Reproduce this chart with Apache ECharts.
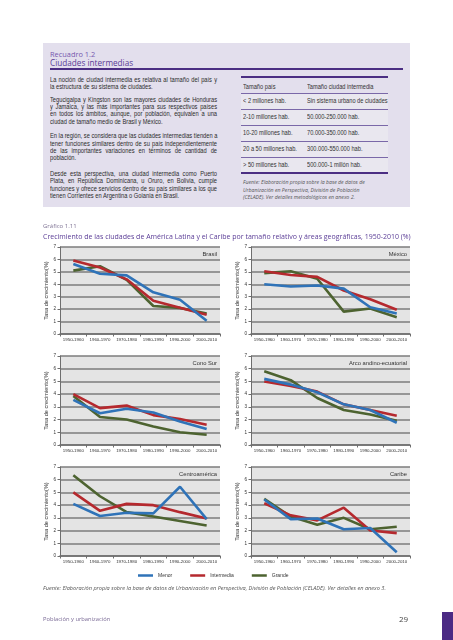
<!DOCTYPE html>
<html><head><meta charset="utf-8">
<script src="https://cdn.jsdelivr.net/npm/echarts@6/dist/echarts.min.js"></script>
<style>
html,body{margin:0;padding:0;background:#fff;width:453px;height:640px;overflow:hidden;}
#chart{position:absolute;left:0;top:0;width:453px;height:640px;}
.t{position:absolute;white-space:nowrap;line-height:8px;height:8px;}
.body{font-family:"Liberation Sans",sans-serif;font-size:6.6px;color:#2b2b2b;width:192px;left:50px;text-align:justify;text-align-last:justify;transform:scaleX(0.87);transform-origin:0 50%;}
.body.last{text-align-last:left;}
.tb{font-family:"Liberation Sans",sans-serif;font-size:6.6px;color:#333;transform:scaleX(0.86);transform-origin:0 50%;}
.hl{position:absolute;left:241px;width:147px;}
.src{font-family:"Open Sans",sans-serif;font-style:italic;font-size:5.2px;color:#555;}
</style></head>
<body>
<div style="position:absolute;left:43px;top:43px;width:367px;height:164px;background:#e3dfed;"></div>
<div class="t" style="left:50px;top:50px;font-family:'Open Sans',sans-serif;font-size:7.4px;color:#7657ad;">Recuadro 1.2</div>
<div class="t" style="left:50px;top:59px;font-family:'Open Sans',sans-serif;font-size:8.2px;color:#5a3c96;">Ciudades intermedias</div>
<div style="position:absolute;left:50px;top:68px;width:353px;height:2px;background:#4b2e83;"></div>

<div id="txt"></div>

<div id="chart"></div>
<div class="t" style="left:43px;top:222px;font-family:'Open Sans',sans-serif;font-size:6px;color:#7f7394;">Gráfico 1.11</div>
<div class="t" style="left:43px;top:233px;font-family:'Open Sans',sans-serif;font-size:7px;color:#5a3c96;">Crecimiento de las ciudades de América Latina y el Caribe por tamaño relativo y áreas geográficas, 1950-2010 (%)</div>
<div class="t src" style="left:43px;top:584px;font-size:5.6px;">Fuente: Elaboración propia sobre la base de datos de Urbanización en Perspectiva, División de Población (CELADE). Ver detalles en anexo 3.</div>
<div class="t" style="left:43px;top:615px;font-family:'Open Sans',sans-serif;font-size:5.8px;color:#7a6a96;">Población y urbanización</div>
<div class="t" style="left:399px;top:614px;font-family:'Open Sans',sans-serif;font-size:8px;color:#444;height:10px;line-height:10px;">29</div>
<div style="position:absolute;left:442px;top:612px;width:11px;height:28px;background:#4b2a84;"></div>

<script>
// ---- Data ----
const categories = ['1950-1960','1960-1970','1970-1980','1980-1990','1990-2000','2000-2010'];
const yTicks = [0,1,2,3,4,5,6,7];
const seriesNames = ['Menor','Intermedia','Grande'];
const panelNames = ['Brasil','México','Cono Sur','Arco andino-ecuatorial','Centroamérica','Caribe'];

const brasilMenor      = [5.63, 4.85, 4.72, 3.35, 2.76, 1.07];
const brasilIntermedia = [5.92, 5.35, 4.40, 2.68, 2.12, 1.55];
const brasilGrande     = [5.10, 5.45, 4.35, 2.25, 2.10, 1.65];

const mexicoMenor      = [4.00, 3.82, 3.90, 3.65, 2.15, 1.65];
const mexicoIntermedia = [5.05, 4.75, 4.60, 3.50, 2.80, 1.95];
const mexicoGrande     = [4.90, 5.05, 4.45, 1.80, 2.05, 1.35];

const conoSurMenor      = [3.55, 2.50, 2.85, 2.55, 1.85, 1.25];
const conoSurIntermedia = [4.00, 2.90, 3.10, 2.35, 2.05, 1.60];
const conoSurGrande     = [3.85, 2.20, 2.00, 1.45, 1.00, 0.80];

const andinoMenor      = [5.20, 4.75, 4.15, 3.20, 2.75, 1.75];
const andinoIntermedia = [5.00, 4.65, 4.20, 3.20, 2.75, 2.30];
const andinoGrande     = [5.80, 5.10, 3.70, 2.75, 2.40, 1.90];

const centroMenor      = [4.10, 3.15, 3.40, 3.35, 5.45, 2.90];
const centroIntermedia = [5.00, 3.55, 4.10, 4.00, 3.45, 2.95];
const centroGrande     = [6.35, 4.70, 3.45, 3.10, 2.75, 2.40];

const caribeMenor      = [4.45, 2.90, 2.95, 2.10, 2.20, 0.30];
const caribeIntermedia = [4.15, 3.20, 2.80, 3.80, 2.00, 1.80];
const caribeGrande     = [4.50, 3.10, 2.45, 3.00, 2.10, 2.30];

const panelData = [
  [brasilMenor, brasilIntermedia, brasilGrande],
  [mexicoMenor, mexicoIntermedia, mexicoGrande],
  [conoSurMenor, conoSurIntermedia, conoSurGrande],
  [andinoMenor, andinoIntermedia, andinoGrande],
  [centroMenor, centroIntermedia, centroGrande],
  [caribeMenor, caribeIntermedia, caribeGrande]
];

// ---- Box text ----
const bodyLines = [
  [80,'La noción de ciudad intermedia es relativa al tamaño del país y',0],
  [87,'la estructura de su sistema de ciudades.',1],
  [99.7,'Tegucigalpa y Kingston son las mayores ciudades de Honduras',0],
  [107,'y Jamaica, y las más importantes para sus respectivos países',0],
  [114.3,'en todos los ámbitos, aunque, por población, equivalen a una',0],
  [121.7,'ciudad de tamaño medio de Brasil y México.',1],
  [136.3,'En la región, se considera que las ciudades intermedias tienden a',0],
  [143.7,'tener funciones similares dentro de su país independientemente',0],
  [151,'de las importantes variaciones en términos de cantidad de',0],
  [158.3,'población.',1],
  [174,'Desde esta perspectiva, una ciudad intermedia como Puerto',0],
  [181.3,'Plata, en República Dominicana, u Oruro, en Bolivia, cumple',0],
  [188.7,'funciones y ofrece servicios dentro de su país similares a los que',0],
  [196,'tienen Corrientes en Argentina o Goiania en Brasil.',1]
];
const tableHeader = ['Tamaño país','Tamaño ciudad intermedia'];
const tableRows = [
  ['< 2 millones hab.','Sin sistema urbano de ciudades'],
  ['2-10 millones hab.','50.000-250.000 hab.'],
  ['10-20 millones hab.','70.000-350.000 hab.'],
  ['20 a 50 millones hab.','300.000-550.000 hab.'],
  ['> 50 millones hab.','500.000-1 millón hab.']
];
const boxSource = [
  'Fuente: Elaboración propia sobre la base de datos de',
  'Urbanización en Perspectiva, División de Población',
  '(CELADE). Ver detalles metodológicos en anexo 2.'
];
const esc = s => s.replace(/</g,'&lt;').replace(/>/g,'&gt;');
let html = '';
bodyLines.forEach(l => {
  html += `<div class="t body${l[2]?' last':''}" style="top:${l[0]-4}px">${esc(l[1])}</div>`;
});
// table
html += `<div class="hl" style="top:76px;height:2px;background:#4b2e83"></div>`;
html += `<div class="t tb" style="left:243px;top:${86.7-4}px">${tableHeader[0]}</div>`;
html += `<div class="t tb" style="left:307px;top:${86.7-4}px">${tableHeader[1]}</div>`;
const rowTops = [93,109,125,141,157];
tableRows.forEach((r,i)=>{
  const top = rowTops[i];
  const bottom = i < 4 ? rowTops[i+1] : 173;
  html += `<div class="hl" style="top:${top}px;height:${bottom-top}px;background:#e9e7ef"></div>`;
  html += `<div class="hl" style="top:${top}px;height:1px;background:#7a68a8"></div>`;
  const c = (top+bottom)/2;
  html += `<div class="t tb" style="left:243px;top:${c-4}px">${esc(r[0])}</div>`;
  html += `<div class="t tb" style="left:307px;top:${c-4}px">${esc(r[1])}</div>`;
});
html += `<div class="hl" style="top:172px;height:2px;background:#4b2e83"></div>`;
[182,189.5,196.7].forEach((y,i)=>{
  html += `<div class="t src" style="left:243px;top:${y-4}px">${boxSource[i]}</div>`;
});
document.getElementById('txt').innerHTML = html;

// ---- Chart ----
const FONT = 'Liberation Sans';
const colors = ['#2f73b8','#b5292e','#4d6330'];
const lefts = [60, 251];
const widths = [160, 159];
const tops = [247, 356, 467];
const heights = [87, 89, 89];

const grids = [], xAxes = [], yAxes = [], series = [], graphics = [];
panelData.forEach((pd, i) => {
  const col = i % 2, row = Math.floor(i / 2);
  grids.push({left: lefts[col], top: tops[row], width: widths[col], height: heights[row],
    show: true, backgroundColor: '#e4e4e4', borderWidth: 0, containLabel: false});
  xAxes.push({type: 'category', gridIndex: i, data: categories, boundaryGap: true,
    axisLine: {show: true, lineStyle: {color: '#6e6e6e', width: 1.5}},
    axisTick: {show: true, length: 2.5, lineStyle: {color: '#6e6e6e'}},
    axisLabel: {fontSize: 4.4, color: '#333', margin: 4, interval: 0, fontFamily: FONT},
    splitLine: {show: false}});
  yAxes.push({type: 'value', gridIndex: i, min: yTicks[0], max: yTicks[yTicks.length-1], interval: 1,
    name: 'Tasa de crecimiento(%)', nameLocation: 'middle', nameGap: 10, nameRotate: 90,
    nameTextStyle: {fontSize: 5.6, color: '#333', fontFamily: FONT},
    axisLine: {show: true, lineStyle: {color: '#6e6e6e', width: 1}},
    axisTick: {show: true, length: 2.5, lineStyle: {color: '#6e6e6e'}},
    axisLabel: {fontSize: 4.6, color: '#333', margin: 4, fontFamily: FONT},
    splitLine: {show: true, lineStyle: {color: '#7d7d7d', width: 1.5}}});
  pd.forEach((vals, k) => {
    series.push({type: 'line', name: seriesNames[k], xAxisIndex: i, yAxisIndex: i, data: vals,
      symbol: 'none', smooth: false, lineStyle: {width: 2.6, color: colors[k]}, itemStyle: {color: colors[k]},
      z: 3 + (2 - k)});
  });
  graphics.push({type: 'text', x: lefts[col] + widths[col] - 3, y: tops[row] + 7,
    style: {text: panelNames[i], fontSize: 5.8, fill: '#333', align: 'right', verticalAlign: 'middle',
      fontFamily: FONT}});
});

const chart = echarts.init(document.getElementById('chart'), null, {renderer: 'canvas'});
chart.setOption({
  animation: false,
  backgroundColor: 'transparent',
  grid: grids, xAxis: xAxes, yAxis: yAxes, series: series,
  graphic: graphics,
  legend: {data: seriesNames, left: 138, top: 573, icon: 'rect', itemWidth: 15, itemHeight: 2.5,
    itemGap: 18, textStyle: {fontSize: 5, color: '#333', fontFamily: FONT}, padding: 0}
});
</script>
</body></html>
